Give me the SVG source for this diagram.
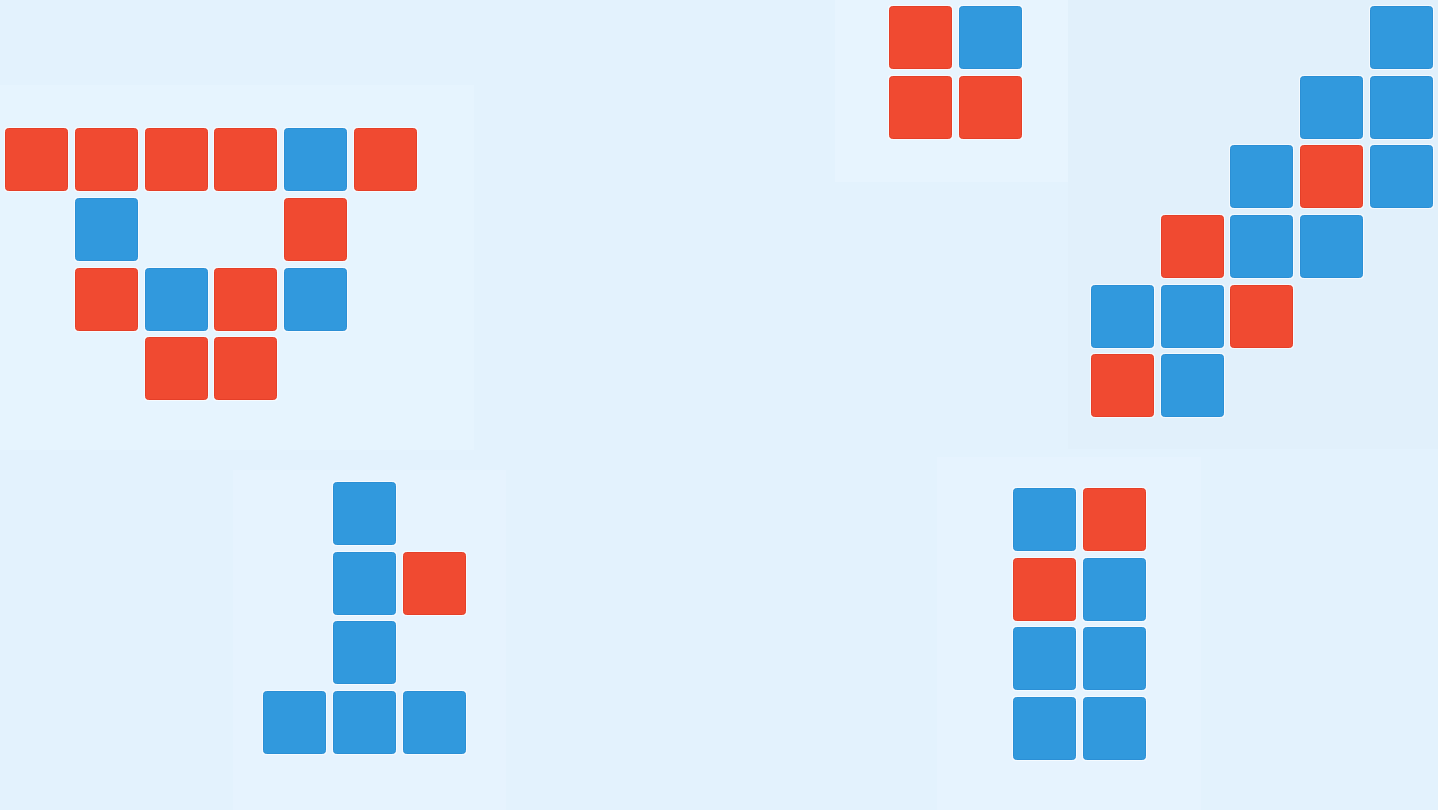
<svg xmlns="http://www.w3.org/2000/svg" width="1438" height="810" viewBox="0 0 1438 810">
  <defs>
    <style>
      .halo { fill: #ffffff; opacity: 0.65; }
      .r { fill: #F04A31; stroke: #E53F28; stroke-width: 1; }
      .b { fill: #3199DD; stroke: #2B8FD5; stroke-width: 1; }
    </style>
    <g id="hr"><rect class="halo" x="-1" y="-1" width="65" height="65" rx="4"/><rect class="r" x="0.5" y="0.5" width="62" height="62" rx="3"/></g>
    <g id="hb"><rect class="halo" x="-1" y="-1" width="65" height="65" rx="4"/><rect class="b" x="0.5" y="0.5" width="62" height="62" rx="3"/></g>
  </defs>

  <g id="background">
    <rect x="0" y="0" width="1438" height="810" fill="#E3F2FD"/>
    <rect x="0" y="85" width="474" height="365" fill="#E6F4FE"/>
    <rect x="835" y="0" width="233" height="182" fill="#E7F4FE"/>
    <rect x="1068" y="0" width="370" height="449" fill="#E1F0FB"/>
    <rect x="233" y="470" width="273" height="340" fill="#E6F3FE"/>
    <rect x="937" y="457" width="264" height="353" fill="#E6F3FE"/>
  </g>

  <g id="connectors"/>

  <g id="cluster-top-left">
    <use href="#hr" x="5" y="128"/>
    <use href="#hr" x="75" y="128"/>
    <use href="#hr" x="145" y="128"/>
    <use href="#hr" x="214" y="128"/>
    <use href="#hb" x="284" y="128"/>
    <use href="#hr" x="354" y="128"/>
    <use href="#hb" x="75" y="198"/>
    <use href="#hr" x="284" y="198"/>
    <use href="#hr" x="75" y="268"/>
    <use href="#hb" x="145" y="268"/>
    <use href="#hr" x="214" y="268"/>
    <use href="#hb" x="284" y="268"/>
    <use href="#hr" x="145" y="337"/>
    <use href="#hr" x="214" y="337"/>
  </g>

  <g id="cluster-top">
    <use href="#hr" x="889" y="6"/>
    <use href="#hb" x="959" y="6"/>
    <use href="#hr" x="889" y="76"/>
    <use href="#hr" x="959" y="76"/>
  </g>

  <g id="cluster-right">
    <use href="#hb" x="1370" y="6"/>
    <use href="#hb" x="1300" y="76"/>
    <use href="#hb" x="1370" y="76"/>
    <use href="#hb" x="1230" y="145"/>
    <use href="#hr" x="1300" y="145"/>
    <use href="#hb" x="1370" y="145"/>
    <use href="#hr" x="1161" y="215"/>
    <use href="#hb" x="1230" y="215"/>
    <use href="#hb" x="1300" y="215"/>
    <use href="#hb" x="1091" y="285"/>
    <use href="#hb" x="1161" y="285"/>
    <use href="#hr" x="1230" y="285"/>
    <use href="#hr" x="1091" y="354"/>
    <use href="#hb" x="1161" y="354"/>
  </g>

  <g id="cluster-bottom-left">
    <use href="#hb" x="333" y="482"/>
    <use href="#hb" x="333" y="552"/>
    <use href="#hr" x="403" y="552"/>
    <use href="#hb" x="333" y="621"/>
    <use href="#hb" x="263" y="691"/>
    <use href="#hb" x="333" y="691"/>
    <use href="#hb" x="403" y="691"/>
  </g>

  <g id="cluster-bottom-right">
    <use href="#hb" x="1013" y="488"/>
    <use href="#hr" x="1083" y="488"/>
    <use href="#hr" x="1013" y="558"/>
    <use href="#hb" x="1083" y="558"/>
    <use href="#hb" x="1013" y="627"/>
    <use href="#hb" x="1083" y="627"/>
    <use href="#hb" x="1013" y="697"/>
    <use href="#hb" x="1083" y="697"/>
  </g>
</svg>
